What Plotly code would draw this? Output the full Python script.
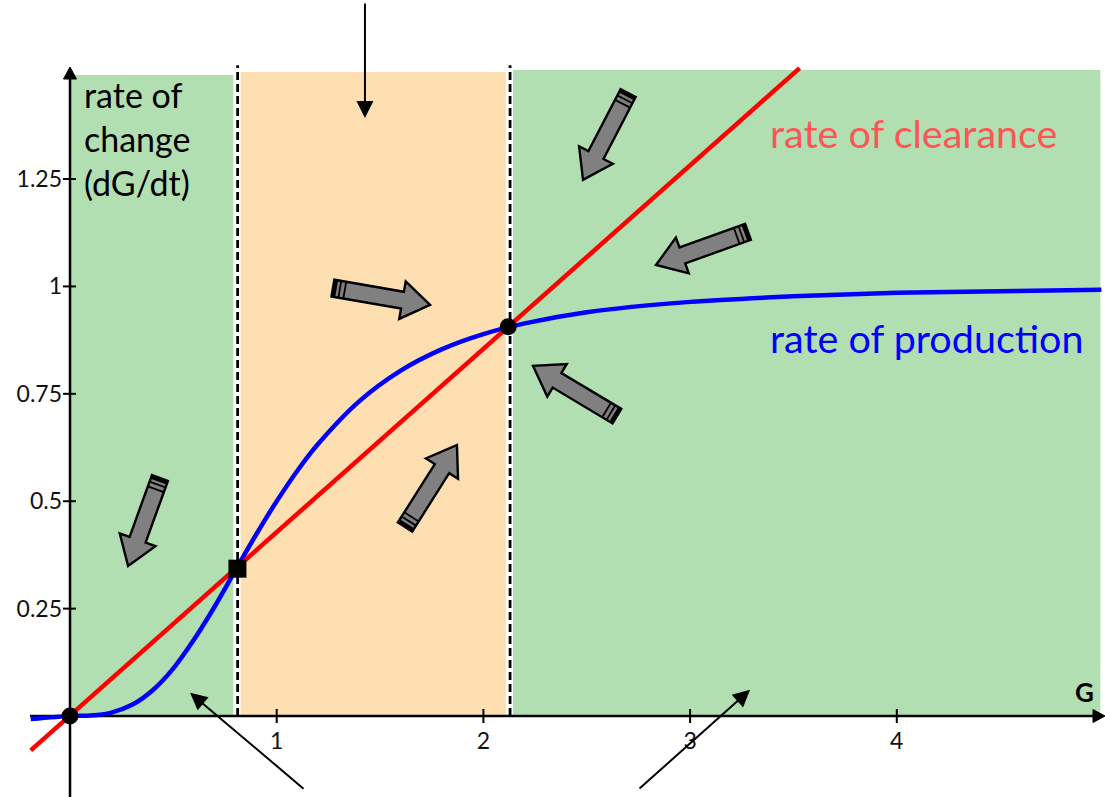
import math
import plotly.graph_objects as go

# ---------------- data ----------------
G_prod = [-0.19, 0.0, 0.1, 0.2, 0.3, 0.4, 0.5, 0.6, 0.7, 0.8, 0.9, 1.0, 1.1, 1.2, 1.4,
          1.6, 1.8, 2.0, 2.2, 2.5, 3.0, 3.5, 4.0, 4.5, 4.99]
rate_prod = [-0.007, 0.0, 0.001, 0.008, 0.026, 0.060, 0.111, 0.178, 0.255, 0.339, 0.422,
             0.500, 0.571, 0.633, 0.733, 0.804, 0.854, 0.889, 0.914, 0.940, 0.964, 0.977,
             0.985, 0.989, 0.992]

G_clear = [-0.19, 3.53]
rate_clear = [-0.080, 1.508]

fixed_G = [0.0, 0.81, 2.12]
fixed_rate = [0.0, 0.343, 0.906]
fixed_symbol = ["circle", "square", "circle"]

x_ticks = [1, 2, 3, 4]
x_ticklabels = ["1", "2", "3", "4"]
y_ticks = [0.25, 0.5, 0.75, 1.0, 1.25]
y_ticklabels = ["0.25", "0.5", "0.75", "1", "1.25"]

# regions: (x0, x1, top, colour)
regions = [(0.0, 0.79, 1.492, "#b2dfb2"),
           (0.815, 2.109, 1.499, "#fddfb2"),
           (2.129, 4.985, 1.504, "#b2dfb2")]
boundaries = [0.811, 2.129]
boundary_top = 1.515

# grey flow arrows: (tail G, tail rate, tip G, tip rate)
flow_arrows = [(0.435, 0.554, 0.281, 0.349),
               (1.272, 0.996, 1.742, 0.957),
               (1.621, 0.440, 1.872, 0.631),
               (2.700, 1.450, 2.482, 1.248),
               (3.280, 1.127, 2.835, 1.050),
               (2.646, 0.698, 2.240, 0.815)]

# thin pointer arrows: (tail G, tail rate, tip G, tip rate)
pointers = [(1.427, 1.662, 1.427, 1.392),
            (1.137, -0.172, 0.581, 0.054),
            (2.748, -0.172, 3.290, 0.061)]

# ---------------- layout geometry ----------------
W, H = 1105, 797
XR = [-0.3387, 5.0073]
YR = [-0.1885, 1.6667]
FONT = "Lato"


def to_px(x, y):
    return ((x - XR[0]) / (XR[1] - XR[0]) * W,
            H - (y - YR[0]) / (YR[1] - YR[0]) * H)


def to_data(px, py):
    return (XR[0] + px / W * (XR[1] - XR[0]),
            YR[0] + (H - py) / H * (YR[1] - YR[0]))


def path_from_px(pts):
    d = []
    for i, (px, py) in enumerate(pts):
        x, y = to_data(px, py)
        d.append(("M" if i == 0 else "L") + f"{x:.5f},{y:.5f}")
    return " ".join(d) + " Z"


fig = go.Figure()

shapes = []
# background regions
for x0, x1, top, col in regions:
    shapes.append(dict(type="rect", xref="x", yref="y", x0=x0, x1=x1, y0=0, y1=top,
                       fillcolor=col, line=dict(width=0), layer="below"))
# boundaries (white backing + black dashes)
for b in boundaries:
    shapes.append(dict(type="line", xref="x", yref="y", x0=b, x1=b, y0=0, y1=boundary_top,
                       line=dict(color="white", width=6), layer="below"))
    shapes.append(dict(type="line", xref="x", yref="y", x0=b, x1=b, y0=0, y1=boundary_top,
                       line=dict(color="black", width=2.8, dash="8px,4px"), layer="below"))

# axes lines
ox, oy = to_px(0, 0)
x_left, _ = to_data(30, 0)
_, y_bot = to_data(0, 797)
shapes.append(dict(type="line", xref="x", yref="y", x0=x_left, x1=to_data(1096, 0)[0], y0=0, y1=0,
                   line=dict(color="black", width=2.5), layer="below"))
shapes.append(dict(type="line", xref="x", yref="y", x0=0, x1=0, y0=y_bot, y1=to_data(0, 76)[1],
                   line=dict(color="black", width=2.5), layer="below"))

# axis arrowheads
shapes.append(dict(type="path", xref="x", yref="y",
                   path=path_from_px([(1105, oy), (1093, oy - 6.5), (1093, oy + 6.5)]),
                   fillcolor="black", line=dict(color="black", width=1), layer="below"))
shapes.append(dict(type="path", xref="x", yref="y",
                   path=path_from_px([(ox, 67), (ox - 6.5, 79), (ox + 6.5, 79)]),
                   fillcolor="black", line=dict(color="black", width=1), layer="below"))

# tick marks crossing the axes
for t in x_ticks:
    tx, _ = to_px(t, 0)
    a = to_data(tx, oy - 7)
    b = to_data(tx, oy + 7)
    shapes.append(dict(type="line", xref="x", yref="y", x0=t, x1=t, y0=a[1], y1=b[1],
                       line=dict(color="black", width=2), layer="below"))
for t in y_ticks:
    _, ty = to_px(0, t)
    a = to_data(ox - 7, ty)
    b = to_data(ox + 6, ty)
    shapes.append(dict(type="line", xref="x", yref="y", x0=a[0], x1=b[0], y0=t, y1=t,
                       line=dict(color="black", width=2), layer="below"))

# grey block arrows
hw, hh, hl = 8.5, 19.0, 28.0
for tx, ty, hx, hy in flow_arrows:
    T = to_px(tx, ty)
    P = to_px(hx, hy)
    L = math.hypot(P[0] - T[0], P[1] - T[1])
    ux, uy = (P[0] - T[0]) / L, (P[1] - T[1]) / L
    nx, ny = -uy, ux
    B = (P[0] - ux * hl, P[1] - uy * hl)
    pts = [(T[0] + nx * hw, T[1] + ny * hw),
           (B[0] + nx * hw, B[1] + ny * hw),
           (B[0] + nx * hh, B[1] + ny * hh),
           P,
           (B[0] - nx * hh, B[1] - ny * hh),
           (B[0] - nx * hw, B[1] - ny * hw),
           (T[0] - nx * hw, T[1] - ny * hw)]
    shapes.append(dict(type="path", xref="x", yref="y", path=path_from_px(pts),
                       fillcolor="#808080", line=dict(color="black", width=2.4), layer="above"))
    # tail stripes
    for d, w in [(2.0, 3.5), (7.0, 1.8), (12.0, 1.8)]:
        c = (T[0] + ux * d, T[1] + uy * d)
        p1 = to_data(c[0] + nx * hw, c[1] + ny * hw)
        p2 = to_data(c[0] - nx * hw, c[1] - ny * hw)
        shapes.append(dict(type="line", xref="x", yref="y", x0=p1[0], y0=p1[1], x1=p2[0], y1=p2[1],
                           line=dict(color="black", width=w), layer="above"))

# ---------------- traces ----------------
fig.add_trace(go.Scatter(x=G_prod, y=rate_prod, mode="lines", line=dict(color="#0000ff", width=4.5,
                         shape="spline", smoothing=0.8), hoverinfo="skip", showlegend=False))
fig.add_trace(go.Scatter(x=G_clear, y=rate_clear, mode="lines", line=dict(color="#ff0000", width=4.5),
                         hoverinfo="skip", showlegend=False))
fig.add_trace(go.Scatter(x=fixed_G, y=fixed_rate, mode="markers",
                         marker=dict(symbol=fixed_symbol, size=[17, 18, 17], color="#000000",
                                     opacity=1, line=dict(width=0)),
                         opacity=1, hoverinfo="skip", showlegend=False))

# ---------------- annotations ----------------
annotations = []
for tx, ty, hx, hy in pointers:
    annotations.append(dict(x=hx, y=hy, ax=tx, ay=ty, xref="x", yref="y", axref="x", ayref="y",
                            text="", showarrow=True, arrowhead=2, arrowsize=1.7, arrowwidth=2,
                            arrowcolor="black", standoff=0, startstandoff=0))

lx, ly = to_data(82, 72)
annotations.append(dict(x=lx, y=ly, xref="x", yref="y", xanchor="left", yanchor="top",
                        text="rate of<br>change<br>(dG/dt)", showarrow=False, align="left",
                        font=dict(family=FONT, size=34, color="black")))
cx, cy = to_data(768, 132)
annotations.append(dict(x=cx, y=cy, xref="x", yref="y", xanchor="left", yanchor="middle",
                        text="rate of clearance", showarrow=False,
                        font=dict(family=FONT, size=39.5, color="#ff5555")))
px_, py_ = to_data(768, 337)
annotations.append(dict(x=px_, y=py_, xref="x", yref="y", xanchor="left", yanchor="middle",
                        text="rate of production", showarrow=False,
                        font=dict(family=FONT, size=39.5, color="#0000ff")))
gx, gy = to_data(1084, 692)
annotations.append(dict(x=gx, y=gy, xref="x", yref="y", xanchor="center", yanchor="middle",
                        text="<b>G</b>", showarrow=False,
                        font=dict(family=FONT, size=26, color="black")))

fig.update_layout(
    width=W, height=H,
    margin=dict(l=0, r=0, t=0, b=0),
    paper_bgcolor="white", plot_bgcolor="white",
    shapes=shapes, annotations=annotations, showlegend=False,
    xaxis=dict(range=XR, showgrid=False, zeroline=False, showline=False,
               tickvals=x_ticks, ticktext=x_ticklabels, ticks="",
               anchor="free", position=(0 - YR[0]) / (YR[1] - YR[0]),
               ticklabelstandoff=9,
               tickfont=dict(family=FONT, size=23, color="#111111"), fixedrange=True),
    yaxis=dict(range=YR, showgrid=False, zeroline=False, showline=False,
               tickvals=y_ticks, ticktext=y_ticklabels, ticks="",
               anchor="free", position=(0 - XR[0]) / (XR[1] - XR[0]),
               ticklabelstandoff=8,
               tickfont=dict(family=FONT, size=23, color="#111111"), fixedrange=True),
)

fig.write_html("out.html", config={"displayModeBar": False},
               post_script="document.body.style.margin='0';document.body.style.overflow='hidden';")
